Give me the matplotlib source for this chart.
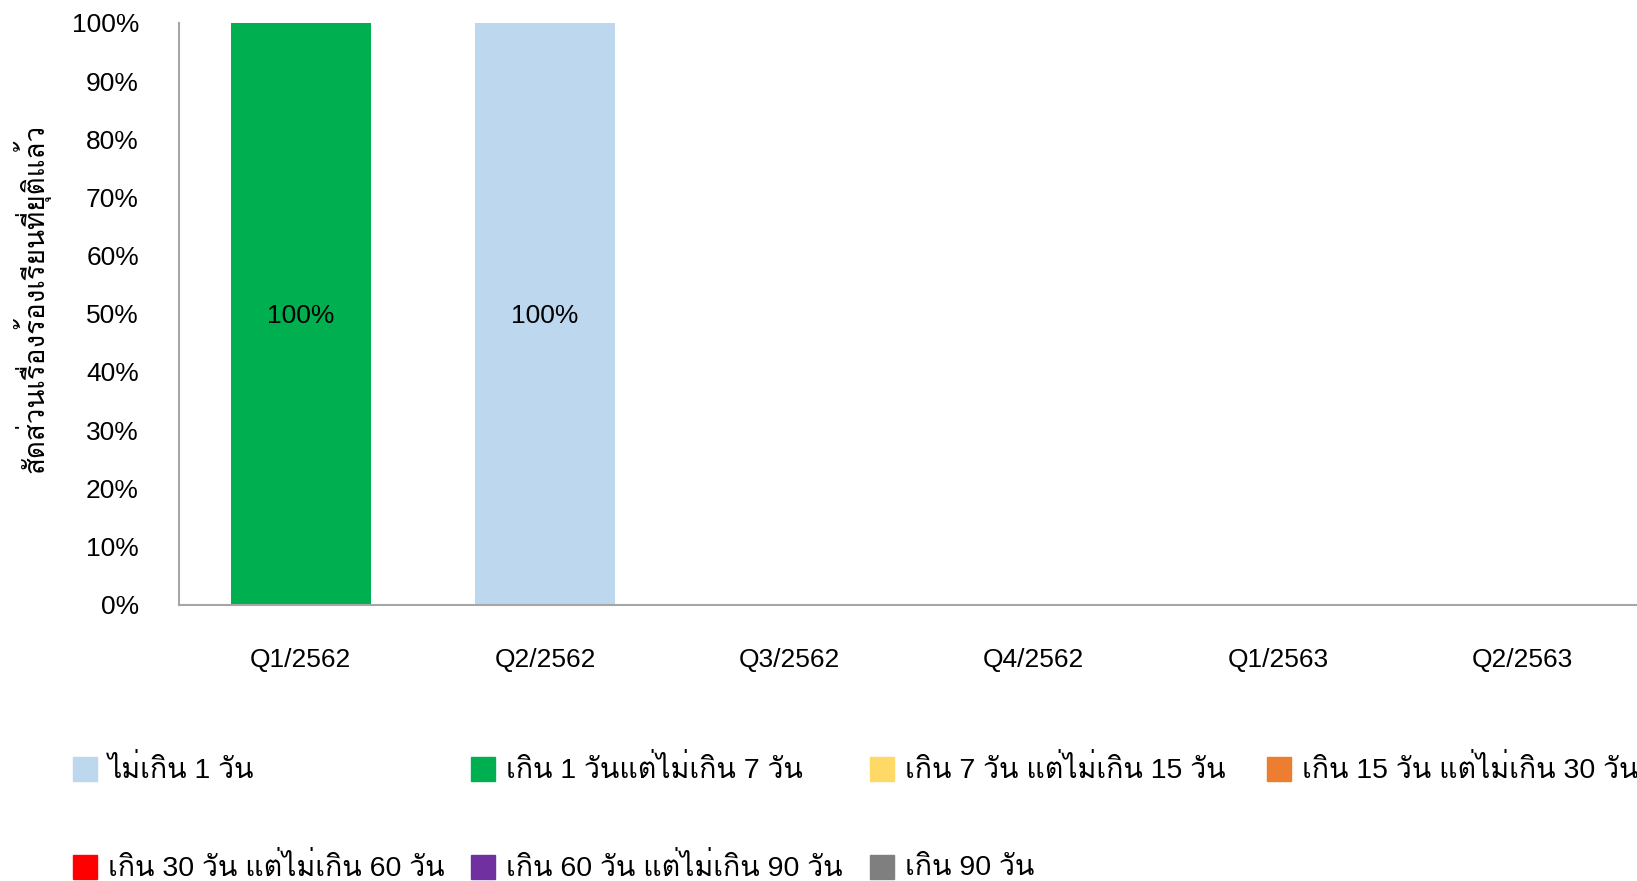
import numpy as np
import matplotlib
matplotlib.use("Agg")
import matplotlib.pyplot as plt
from matplotlib import font_manager
from matplotlib.ft2font import FT2Font
from matplotlib.patches import Rectangle

# quarters and share of closed complaints (%) per duration band
quarters = ["Q1/2562", "Q2/2562", "Q3/2562", "Q4/2562", "Q1/2563", "Q2/2563"]
bands = ["ไม่เกิน 1 วัน",
         "เกิน 1 วันแต่ไม่เกิน 7 วัน",
         "เกิน 7 วัน แต่ไม่เกิน 15 วัน",
         "เกิน 15 วัน แต่ไม่เกิน 30 วัน",
         "เกิน 30 วัน แต่ไม่เกิน 60 วัน",
         "เกิน 60 วัน แต่ไม่เกิน 90 วัน",
         "เกิน 90 วัน"]
colors = ["#BDD7EE", "#00B050", "#FFD966", "#ED7D31", "#FF0000", "#7030A0", "#7F7F7F"]
upto_1   = [0, 100, 0, 0, 0, 0]
d1_7     = [100, 0, 0, 0, 0, 0]
d7_15    = [0, 0, 0, 0, 0, 0]
d15_30   = [0, 0, 0, 0, 0, 0]
d30_60   = [0, 0, 0, 0, 0, 0]
d60_90   = [0, 0, 0, 0, 0, 0]
over_90  = [0, 0, 0, 0, 0, 0]
series = [upto_1, d1_7, d7_15, d15_30, d30_60, d60_90, over_90]
ylabel = "สัดส่วนเรื่องร้องเรียนที่ยุติแล้ว"

# find an installed font that has Thai glyphs
thai_font = None
for fe in font_manager.fontManager.ttflist:
    try:
        if 0x0E01 in FT2Font(fe.fname).get_charmap():
            thai_font = fe.name
            if "sans" in fe.name.lower() or "loma" in fe.name.lower():
                break
    except Exception:
        pass
fams = ["Liberation Sans"] + ([thai_font] if thai_font else []) + ["DejaVu Sans"]
plt.rcParams["font.family"] = fams

W, H = 1637, 881
fig = plt.figure(figsize=(W / 100, H / 100), dpi=100)
ax = fig.add_axes([178.5 / W, 1 - 604.5 / H, 1466 / W, (604.5 - 23) / H])

x = np.arange(len(quarters))
bottom = np.zeros(len(quarters))
for vals, c in zip(series, colors):
    vals = np.array(vals, dtype=float)
    ax.bar(x, vals, width=0.573, bottom=bottom, color=c, zorder=2)
    for xi, v, b in zip(x, vals, bottom):
        if v > 0:
            ax.text(xi, b + v / 2, "{:.0f}%".format(v), ha="center", va="center_baseline",
                    fontsize=19, color="black", zorder=3)
    bottom += vals

ax.set_xlim(-0.5, len(quarters) - 0.5)
ax.set_ylim(0, 100)
ax.set_yticks(np.arange(0, 101, 10))
ax.set_yticklabels(["{}%".format(v) for v in range(0, 101, 10)])
ax.set_xticks(x)
ax.set_xticklabels(quarters)
ax.tick_params(axis="y", length=0, pad=28.5, labelsize=19)
ax.tick_params(axis="x", length=0, pad=31, labelsize=19)
for s in ["top", "right"]:
    ax.spines[s].set_visible(False)
for s in ["left", "bottom"]:
    ax.spines[s].set_color("#A6A6A6")
    ax.spines[s].set_linewidth(1.5)

fig.text(31 / W, 1 - 298 / H, ylabel, rotation=90, ha="center", va="center",
         fontsize=20)

# legend laid out in rows of four, like the original
col_x = [73, 471, 870, 1267]
row_y = [769, 867]
box = 24
for i, (lbl, c) in enumerate(zip(bands, colors)):
    px = col_x[i % 4]
    py = row_y[i // 4]
    fig.add_artist(Rectangle((px / W, 1 - (py + box / 2) / H), box / W, box / H,
                             transform=fig.transFigure, color=c))
    fig.text((px + box + 11) / W, 1 - (py + 1) / H, lbl, ha="left", va="center",
             fontsize=20.5)

fig.savefig("out.png", dpi=100)
